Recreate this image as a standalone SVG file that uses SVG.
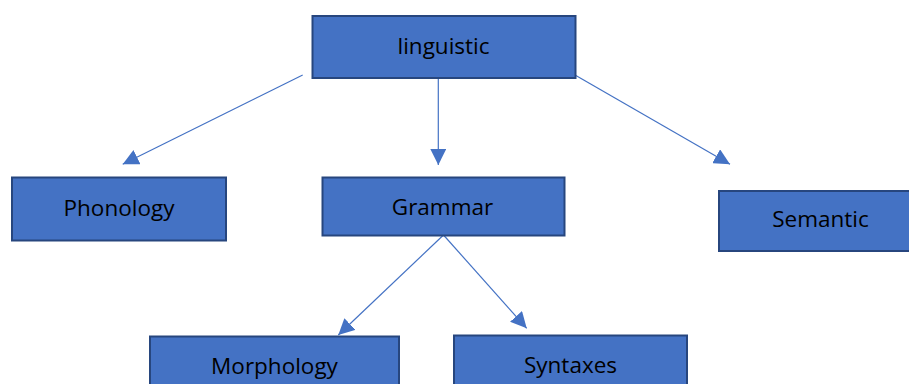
<svg xmlns="http://www.w3.org/2000/svg" width="909" height="384" viewBox="0 0 909 384">
  <style>
    .box { fill: #4472C4; stroke: #27467E; stroke-width: 2; }
    .lbl { font-family: "Open Sans", "Noto Sans", "Liberation Sans", sans-serif; font-size: 22.5px; fill: #000; text-anchor: middle; }
    .conn { stroke: #4472C4; stroke-width: 1.2; fill: none; marker-end: url(#arrow); }
  </style>
  <defs>
    <marker id="arrow" markerUnits="userSpaceOnUse" markerWidth="16" markerHeight="16" viewBox="0 0 15 15" refX="15" refY="7.5" orient="auto">
      <path d="M0,0 L15,7.5 L0,15 Z" fill="#4472C4"/>
    </marker>
  </defs>
  <rect width="909" height="384" fill="#ffffff"/>
  <g id="connectors">
    <line class="conn" x1="302.7" y1="75" x2="122.7" y2="164.3"/>
    <line class="conn" x1="438.3" y1="79" x2="438.3" y2="165"/>
    <line class="conn" x1="575" y1="75" x2="730" y2="164.3"/>
    <line class="conn" x1="443.5" y1="235" x2="338.3" y2="335"/>
    <line class="conn" x1="443.5" y1="235" x2="526.7" y2="328.3"/>
  </g>
  <g id="linguistic">
    <rect class="box" x="312.5" y="16" width="263" height="62"/>
    <text class="lbl" x="443.5" y="53.5">linguistic</text>
  </g>
  <g id="phonology">
    <rect class="box" x="12" y="177.5" width="214" height="63"/>
    <text class="lbl" x="119" y="215.5">Phonology</text>
  </g>
  <g id="grammar">
    <rect class="box" x="322.5" y="177.5" width="242" height="58"/>
    <text class="lbl" x="442.5" y="214.5">Grammar</text>
  </g>
  <g id="semantic">
    <rect class="box" x="719" y="191" width="210" height="60"/>
    <text class="lbl" x="820.5" y="227">Semantic</text>
  </g>
  <g id="morphology">
    <rect class="box" x="150" y="336.5" width="249" height="62"/>
    <text class="lbl" x="274.5" y="373.5">Morphology</text>
  </g>
  <g id="syntaxes">
    <rect class="box" x="454" y="335.5" width="233" height="62"/>
    <text class="lbl" x="570.5" y="372.5">Syntaxes</text>
  </g>
</svg>
